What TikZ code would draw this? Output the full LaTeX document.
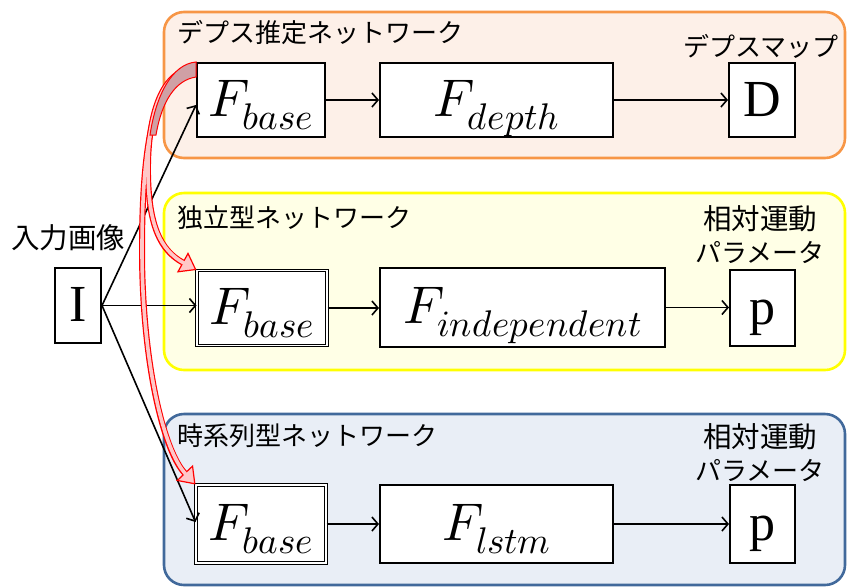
\documentclass[tikz,border=0pt]{standalone}
\usepackage{fontspec}
\usepackage{unicode-math}
\newfontfamily\jp{Noto Sans CJK JP}
\newfontfamily\tnr{Liberation Serif}
\usetikzlibrary{arrows.meta,calc}
\definecolor{orfill}{RGB}{253,240,232}
\definecolor{ordraw}{RGB}{247,150,70}
\definecolor{yefill}{RGB}{255,255,230}
\definecolor{yedraw}{RGB}{255,255,0}
\definecolor{blfill}{RGB}{233,238,246}
\definecolor{bldraw}{RGB}{65,105,155}
\definecolor{pinkfill}{RGB}{255,200,200}
\definecolor{wedgefill}{RGB}{207,160,165}
\begin{document}
\begin{tikzpicture}[x=1pt,y=-1pt,
 panel/.style={rounded corners=20pt, line width=2.6pt},
 box/.style={draw, fill=white, line width=2pt, inner sep=0pt, text height=36pt, text depth=4pt, font=\fontsize{53}{53}\selectfont},
 dbox/.style={box, double, double distance=1.6pt, line width=1pt},
 tbox/.style={box, font=\tnr\fontsize{52}{52}\selectfont},
 lbl/.style={font=\jp\fontsize{26}{26}\selectfont, inner sep=0pt},
 lblw/.style={font=\jp\fontsize{28.5}{28.5}\selectfont, inner sep=0pt},
 arr/.style={line width=1.6pt, -{Straight Barb[length=6pt,width=14pt]}},
 redouter/.style={line width=6pt, red, -{Triangle[length=16pt,width=23pt,line width=1.2pt,fill=pinkfill]}},
 redinner/.style={line width=3.6pt, pinkfill, shorten >=14pt},
]
\useasboundingbox (0,0) rectangle (848,587);
\clip (0,0) rectangle (848,587);

% panels
\draw[panel, draw=ordraw, fill=orfill] (164,12) rectangle (845,158);
\draw[panel, draw=yedraw, fill=yefill] (164,193) rectangle (845,370);
\draw[panel, draw=bldraw, fill=blfill] (164,414) rectangle (845,585);

% labels
\node[lbl, anchor=west] (t1) at (177,33) {デプス推定ネットワーク};
\node[lbl] (t2) at (761,46) {デプスマップ};
\node[lbl, anchor=west] (t3) at (177,218) {独立型ネットワーク};
\node[lblw] (t4) at (760,219) {相対運動};
\node[lbl] (t5) at (760,252) {パラメータ};
\node[lbl, anchor=west] (t6) at (177,436) {時系列型ネットワーク};
\node[lblw] (t7) at (760,437) {相対運動};
\node[lbl] (t8) at (760,470) {パラメータ};
\node[lblw] (t9) at (68,238) {入力画像};

% boxes
\node[tbox, minimum width=46pt, minimum height=75pt] (I) at (78,305.5) {I};
\node[box, minimum width=128pt, minimum height=74pt] (fb1) at (261,100) {$F_{base}$};
\node[box, minimum width=233pt, minimum height=74pt] (fd) at (496.5,100) {$F_{depth}$};
\node[tbox, minimum width=66pt, minimum height=74pt] (D) at (762,100) {D};
\node[dbox, minimum width=130pt, minimum height=75pt] (fb2) at (262,308) {$F_{base}$};
\node[box, minimum width=285pt, minimum height=79pt] (fi) at (522.5,307.5) {$F_{independent}$};
\node[tbox, minimum width=65pt, minimum height=76pt] (p1) at (762.5,308) {p};
\node[dbox, minimum width=130pt, minimum height=78pt] (fb3) at (261,524) {$F_{base}$};
\node[box, minimum width=233pt, minimum height=78pt] (fl) at (496.5,524) {$F_{lstm}$};
\node[tbox, minimum width=65pt, minimum height=78pt] (p2) at (762.5,524) {p};

% row arrows
\draw[arr] (fb1.east) -- (fb1.east -| fd.west);
\draw[arr] (fd.east) -- (fd.east -| D.west);
\draw[arr] (fb2.east) -- (fb2.east -| fi.west);
\draw[arr] (fi.east) -- (fi.east -| p1.west);
\draw[arr] (fb3.east) -- (fb3.east -| fl.west);
\draw[arr] (fl.east) -- (fl.east -| p2.west);

% input arrows
\draw[arr] (I.east) -- ($(fb1.west)+(0,5)$);
\draw[arr] (I.east) -- (I.east -| fb2.west);
\draw[arr] (I.east) -- ($(fb3.west)+(0,-2)$);

% red hollow arrows
\coordinate (rs) at ($(fb1.north west)+(-4,7)$);
\draw[redouter] (rs) .. controls (160,72) and (147,120) .. (148,175) .. controls (149,225) and (160,250) .. (fb2.north west);
\draw[redouter] (rs) .. controls (155,75) and (142,140) .. (142,250) .. controls (142,360) and (163,450) .. (fb3.north west);
\draw[redinner] (rs) .. controls (160,72) and (147,120) .. (148,175) .. controls (149,225) and (160,250) .. (fb2.north west);
\draw[redinner] (rs) .. controls (155,75) and (142,140) .. (142,250) .. controls (142,360) and (163,450) .. (fb3.north west);
\draw[red, line width=1pt, fill=wedgefill] (fb1.north west) .. controls (172,64) and (156,95) .. (150,135) -- (156,135) .. controls (162,100) and (176,80) .. ($(fb1.north west)+(0,15)$) -- cycle;
\end{tikzpicture}
\end{document}
